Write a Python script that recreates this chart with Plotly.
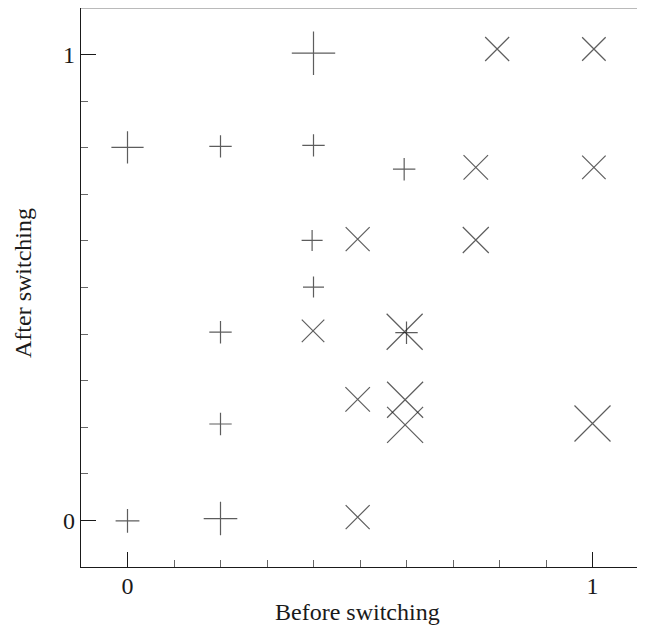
import plotly.graph_objects as go

# "+" markers (cross)
plus_x = [0.4, 0.0, 0.2, 0.4, 0.595, 0.397, 0.4, 0.2, 0.6, 0.2, 0.0, 0.2]
plus_y = [1.003, 0.801, 0.803, 0.805, 0.754, 0.601, 0.501, 0.404, 0.403, 0.207, -0.001, 0.004]
plus_size = [31, 23, 16, 16, 16, 15, 15, 16, 16, 16, 17, 24]

# "x" markers
x_x = [0.795, 1.003, 0.749, 1.003, 0.495, 0.749, 0.399, 0.596, 0.495, 0.597, 0.597, 1.0, 0.495]
x_y = [1.012, 1.012, 0.758, 0.758, 0.604, 0.602, 0.407, 0.405, 0.26, 0.259, 0.205, 0.208, 0.007]
x_size = [24, 23.5, 24.5, 23.5, 24, 26, 22.5, 36, 24.5, 36, 36, 36, 24]

x_tickvals = [0, 1]
x_ticktext = ["0", "1"]
y_tickvals = [0, 1]
y_ticktext = ["0", "1"]

FONT = "Liberation Serif"
INK = "#1a1a1a"

fig = go.Figure()
fig.add_trace(go.Scatter(
    x=plus_x, y=plus_y, mode="markers",
    marker=dict(symbol="cross-thin", size=plus_size,
                line=dict(color=INK, width=1.2)),
    showlegend=False, hoverinfo="skip"))
fig.add_trace(go.Scatter(
    x=x_x, y=x_y, mode="markers",
    marker=dict(symbol="x-thin", size=x_size,
                line=dict(color=INK, width=1.2)),
    showlegend=False, hoverinfo="skip"))

axis_common = dict(
    showgrid=False, zeroline=False, showline=True, linecolor=INK, linewidth=1.3,
    ticks="inside", ticklen=15, tickwidth=1.2, tickcolor=INK,
    tickfont=dict(family=FONT, size=24, color=INK),
    minor=dict(dtick=0.1, tick0=0, ticks="inside", ticklen=7, tickwidth=1.1, tickcolor="#666"),
    automargin=False,
)

fig.update_xaxes(range=[-0.1, 1.1], tickvals=x_tickvals, ticktext=x_ticktext,
                 ticklabelstandoff=-3, **axis_common)
fig.update_yaxes(range=[-0.1, 1.1], tickvals=y_tickvals, ticktext=y_ticktext, **axis_common)

# axis titles
fig.add_annotation(text="Before switching", xref="paper", yref="paper",
                   x=0.495, y=-0.081, xanchor="center", yanchor="middle",
                   showarrow=False, font=dict(family=FONT, size=24, color=INK))
fig.add_annotation(text="After switching", xref="paper", yref="paper",
                   x=-0.104, y=0.508, xanchor="center", yanchor="middle", textangle=-90,
                   showarrow=False, font=dict(family=FONT, size=24, color=INK))

# top and right frame lines (lighter)
fig.add_shape(type="line", xref="paper", yref="paper", x0=0, x1=1, y0=1, y1=1,
              line=dict(color="#777", width=1.2))
fig.add_shape(type="line", xref="paper", yref="paper", x0=1, x1=1, y0=0, y1=1,
              line=dict(color="#777", width=1.2))

fig.update_layout(
    width=637, height=622,
    margin=dict(l=73, r=6, t=0, b=63),
    plot_bgcolor="white", paper_bgcolor="white",
)

fig.write_html("out.html")
